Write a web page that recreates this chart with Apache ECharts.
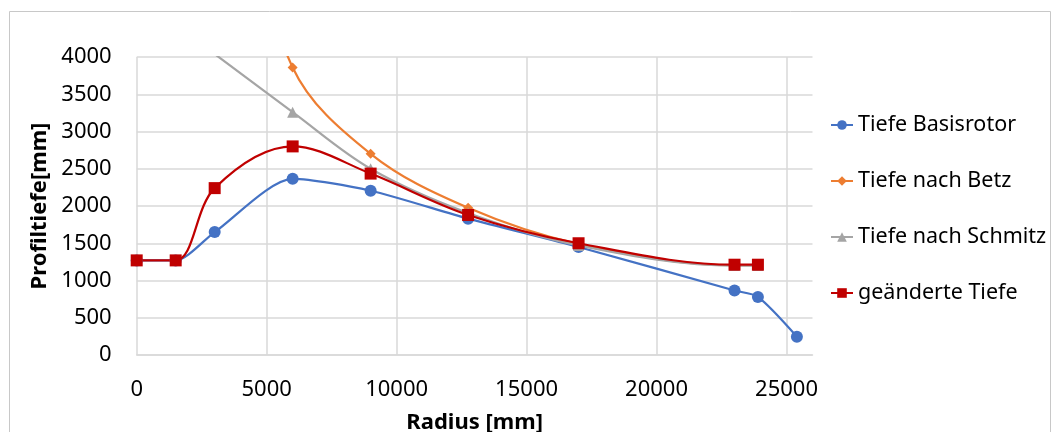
<!DOCTYPE html>
<html>
<head>
<meta charset="utf-8">
<script src="https://cdn.jsdelivr.net/npm/echarts@6/dist/echarts.min.js"></script>
<style>
html,body{margin:0;padding:0;background:#fff;}
#chart{width:1054px;height:432px;}
</style>
</head>
<body>
<div id="chart"></div>
<script>
// Data
const radius = [0, 1500, 3000, 6000, 9000, 12750, 17000, 23000, 23900, 25400];
const tiefeBasisrotor = [1270, 1270, 1650, 2365, 2205, 1830, 1450, 865, 780, 245];
const tiefeBetz = [null, null, 7200, 3860, 2700, 1975, 1490, 1205, 1205, null];
const tiefeSchmitz = [null, null, 4040, 3260, 2500, 1905, 1470, 1200, 1200, null];
const geaenderteTiefe = [1270, 1270, 2240, 2800, 2435, 1880, 1500, 1212, 1212, null];
const seriesNames = ['Tiefe Basisrotor', 'Tiefe nach Betz', 'Tiefe nach Schmitz', 'geänderte Tiefe'];
const xTickLabels = [0, 5000, 10000, 15000, 20000, 25000];
const yTickLabels = [0, 500, 1000, 1500, 2000, 2500, 3000, 3500, 4000];

function pairs(vals) {
  const out = [];
  for (let i = 0; i < radius.length; i++) {
    if (vals[i] !== null) out.push([radius[i], vals[i]]);
  }
  return out;
}

const FONT = 'Noto Sans';
const chart = echarts.init(document.getElementById('chart'));
chart.setOption({
  animation: false,
  backgroundColor: '#ffffff',
  textStyle: { fontFamily: FONT },
  graphic: [{
    type: 'rect',
    shape: { x: 9.5, y: 11.5, width: 1041, height: 440 },
    style: { fill: 'none', stroke: '#C8C8C8', lineWidth: 1 },
    silent: true
  }],
  grid: { left: 136.7, top: 57, right: 241.5, bottom: 77, containLabel: false, outerBoundsMode: 'none' },
  legend: {
    orient: 'vertical',
    left: 825,
    top: 109,
    padding: 5,
    itemWidth: 22,
    itemHeight: 12,
    itemGap: 34,
    textStyle: { fontFamily: FONT, fontSize: 21.5, color: '#000' },
    data: seriesNames
  },
  xAxis: {
    type: 'value',
    min: 0,
    max: 26000,
    interval: 5000,
    name: 'Radius [mm]',
    nameLocation: 'middle',
    nameGap: 57,
    nameTextStyle: { fontFamily: FONT, fontSize: 22, fontWeight: 'bold', color: '#000' },
    axisLine: { show: true, lineStyle: { color: '#D9D9D9', width: 1.5 } },
    axisTick: { show: false },
    axisLabel: {
      margin: 24,
      fontFamily: FONT, fontSize: 22, color: '#000',
      formatter: function (v) { return xTickLabels.indexOf(v) >= 0 ? String(v) : ''; }
    },
    splitLine: { show: true, showMaxLine: false, lineStyle: { color: '#D9D9D9', width: 1.5 } }
  },
  yAxis: {
    type: 'value',
    min: 0,
    max: 4000,
    interval: 500,
    name: 'Profiltiefe[mm]',
    nameLocation: 'middle',
    nameGap: 83,
    nameTextStyle: { fontFamily: FONT, fontSize: 22, fontWeight: 'bold', color: '#000' },
    axisLine: { show: false },
    axisTick: { show: false },
    axisLabel: {
      margin: 25,
      fontFamily: FONT, fontSize: 22, color: '#000',
      formatter: function (v) { return yTickLabels.indexOf(v) >= 0 ? String(v) : ''; }
    },
    splitLine: { show: true, lineStyle: { color: '#D9D9D9', width: 1.5 } }
  },
  series: [
    {
      name: seriesNames[0], type: 'line', data: pairs(tiefeBasisrotor),
      smooth: 0.25, symbol: 'circle', symbolSize: 12,
      itemStyle: { color: '#4472C4' }, lineStyle: { color: '#4472C4', width: 2.2 },
      clip: true
    },
    {
      name: seriesNames[1], type: 'line', data: pairs(tiefeBetz),
      smooth: 0.35, symbol: 'diamond', symbolSize: 10,
      itemStyle: { color: '#ED7D31' }, lineStyle: { color: '#ED7D31', width: 2.2 },
      clip: true
    },
    {
      name: seriesNames[2], type: 'line', data: pairs(tiefeSchmitz),
      smooth: 0.35, symbol: 'triangle', symbolSize: 11,
      itemStyle: { color: '#A5A5A5' }, lineStyle: { color: '#A5A5A5', width: 2.2 },
      clip: true
    },
    {
      name: seriesNames[3], type: 'line', data: pairs(geaenderteTiefe),
      smooth: 0.35, symbol: 'rect', symbolSize: 12,
      itemStyle: { color: '#C00000' }, lineStyle: { color: '#C00000', width: 2.2 },
      clip: true
    }
  ]
});
</script>
</body>
</html>
